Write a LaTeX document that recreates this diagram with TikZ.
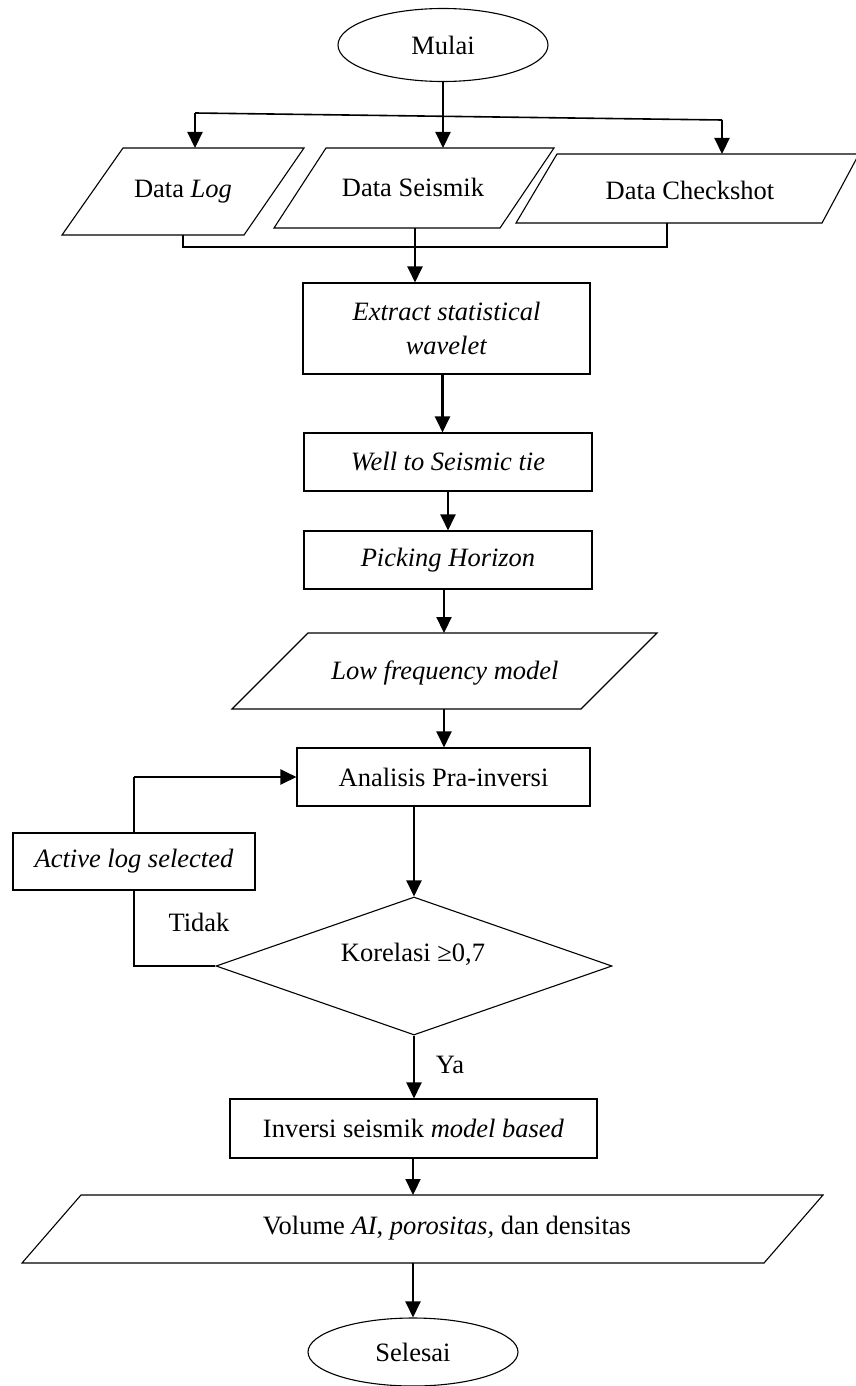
\documentclass[tikz,border=0pt]{standalone}
\usepackage{fontspec}
\setmainfont{Liberation Serif}
\usetikzlibrary{arrows.meta,shapes.geometric,calc}
\begin{document}
\begin{tikzpicture}[x=1pt,y=-1pt,
  font=\fontsize{26.5}{34}\selectfont,
  outline/.style={draw=black,line width=1.1pt},
  procbox/.style={outline,rectangle,inner sep=0pt,align=center},
  term/.style={outline,ellipse,inner sep=0pt,minimum width=210pt},
  arr/.style={line width=2.2pt,-{Triangle[length=16pt,width=15pt]}},
  thinline/.style={line width=1.1pt},
  midline/.style={line width=1.6pt},
]
\useasboundingbox (0,0) rectangle (855,1386);

% start
\node[term,minimum height=73pt] (mulai) at (443,45) {Mulai};

% input data
\draw[outline] (123,148) -- (304,148) -- (244,235) -- (62,235) -- cycle;
\node (log) at (183,192) {Data \textit{Log}};
\draw[outline] (326,148) -- (554,148) -- (500,228) -- (274,228) -- cycle;
\node (seis) at (413,187) {Data Seismik};
\draw[outline] (557,154) -- (859,154) -- (822,223) -- (516,223) -- cycle;
\node (chk) at (690,190) {Data Checkshot};

\coordinate (logTop) at (195,148);
\coordinate (seisTop) at (443,148);
\coordinate (chkTop) at (722,154);
\coordinate (logBot) at (183,235);
\coordinate (seisBot) at (415,228);
\coordinate (chkBot) at (667,223);

% split to the three inputs
\coordinate (splitL) at (195,113);
\coordinate (splitM) at (443,116);
\coordinate (splitR) at (722,120);
\draw[thinline] (mulai.south) -- (splitM);
\draw[midline] (splitL) -- (splitR);
\draw[arr] (splitL) -- (logTop);
\draw[arr] (splitM) -- (seisTop);
\draw[arr] (splitR) -- (chkTop);

% processing steps
\node[procbox,minimum width=287pt,minimum height=91pt] (ext) at (446.5,328.5)
  {\textit{Extract statistical}\\\textit{wavelet}};
\node[procbox,minimum width=288pt,minimum height=58pt] (well) at (448,462)
  {\textit{Well to Seismic tie}};
\node[procbox,minimum width=288pt,minimum height=58pt] (pick) at (448,560)
  {\textit{Picking Horizon}};

% merge of the inputs
\coordinate (mergeL) at (183,247);
\draw[midline] (logBot) -- (mergeL) -| (chkBot);
\draw[arr] (seisBot) -- (seisBot |- ext.north);

\draw[arr] ([xshift=-4pt]ext.south) -- ([xshift=-4pt]ext.south |- well.north);
\draw[arr] (well.south) -- (well.south |- pick.north);

% low frequency model
\draw[outline] (308,633) -- (657,633) -- (581,709) -- (232,709) -- cycle;
\node (low) at (445,673) {\textit{Low frequency model}};
\coordinate (lowTop) at (444,633);
\coordinate (lowBot) at (444,709);
\draw[arr] (pick.south -| lowTop) -- (lowTop);

\node[procbox,minimum width=293pt,minimum height=58pt] (ana) at (443.5,777)
  {Analisis Pra-inversi};
\draw[arr] (lowBot) -- (lowBot |- ana.north);

% decision and loop
\node[outline,diamond,inner sep=0pt,minimum width=396pt,minimum height=138pt] (kor) at (414,966) {};
\node (kortext) at (413,954) {Korelasi ≥0,7};
\draw[arr] (kor.north |- ana.south) -- (kor.north);

\node[procbox,minimum width=242pt,minimum height=57pt] (act) at (134,861.5)
  {\textit{Active log selected}};
\coordinate (loopTop) at (act.north |- ana.west);
\draw[thinline] (act.north) -- (loopTop);
\draw[arr] (loopTop) -- (ana.west);
\draw[thinline] (kor.west) -| (act.south);
\node (tidak) at (199,922) {Tidak};

% inversion and output
\node[procbox,minimum width=367pt,minimum height=59pt] (inv) at (413.5,1128.5)
  {Inversi seismik \textit{model based}};
\draw[arr] (kor.south) -- (kor.south |- inv.north);
\node (ya) at (450,1065) {Ya};

\draw[outline] (81,1195) -- (823,1195) -- (764,1263) -- (22,1263) -- cycle;
\node (vol) at (447,1228) {Volume \textit{AI}, \textit{porositas,} dan densitas};
\coordinate (volTop) at (413,1195);
\coordinate (volBot) at (413,1263);
\draw[arr] (inv.south -| volTop) -- (volTop);

% end
\node[term,minimum height=68pt] (sel) at (413,1352) {Selesai};
\draw[arr] (volBot) -- (sel.north);
\end{tikzpicture}
\end{document}
